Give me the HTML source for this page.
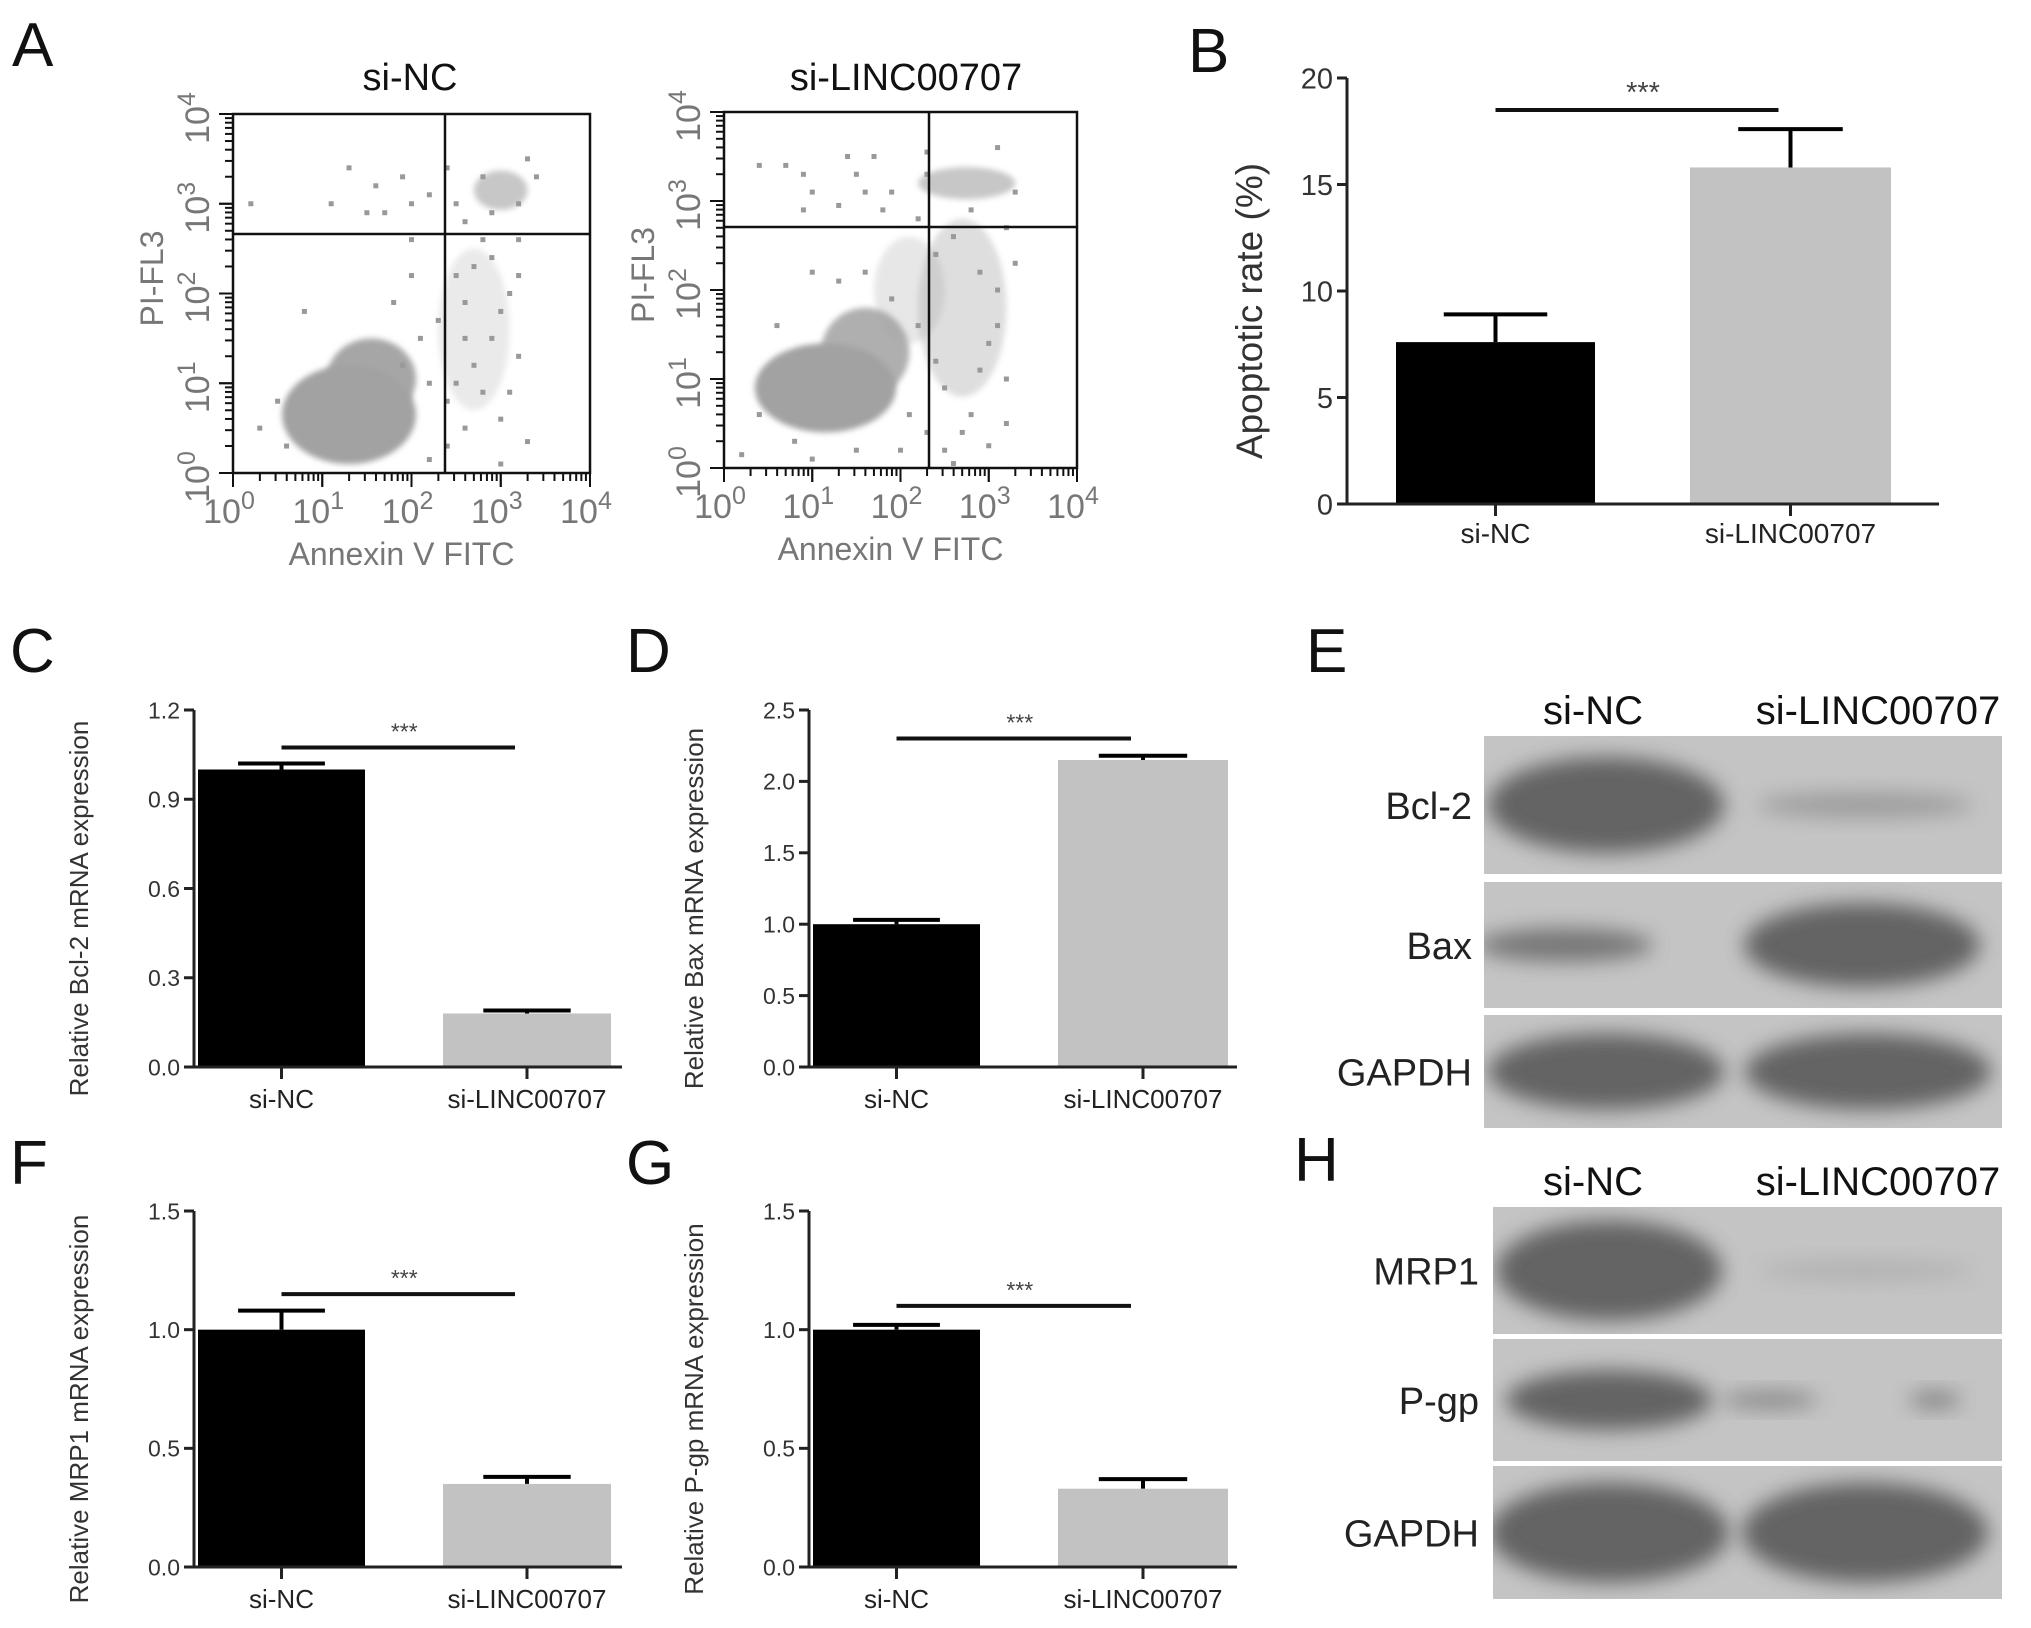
<!DOCTYPE html>
<html><head><meta charset="utf-8"><style>
html,body{margin:0;padding:0;background:#fff}
svg{display:block;font-family:"Liberation Sans",Arial,sans-serif}
</style></head><body>
<svg id="fig" width="2031" height="1628" viewBox="0 0 2031 1628">
<defs>
<filter id="blur" x="-30%" y="-60%" width="160%" height="220%"><feGaussianBlur stdDeviation="10"/></filter>
<filter id="blur2" x="-30%" y="-60%" width="160%" height="220%"><feGaussianBlur stdDeviation="3"/></filter>
</defs>
</svg>
<script>
// ---------- Data ----------
const cats = ['si-NC','si-LINC00707'];
const bVals = [7.6, 15.8];
const bErr = [1.3, 1.8];
const bTicks = [0,5,10,15,20];
const cVals = [1.0, 0.18];
const cErr = [0.02, 0.01];
const cTicks = [0,0.3,0.6,0.9,1.2];
const dVals = [1.0, 2.15];
const dErr = [0.03, 0.03];
const dTicks = [0,0.5,1.0,1.5,2.0,2.5];
const fVals = [1.0, 0.35];
const fErr = [0.08, 0.03];
const fTicks = [0,0.5,1.0,1.5];
const gVals = [1.0, 0.33];
const gErr = [0.02, 0.04];
const gTicks = [0,0.5,1.0,1.5];
// scatter clusters: [log10 x, log10 y, spread x, spread y, opacity]
const ncClusters = [[1.3,0.65,0.75,0.55,1],[1.55,1.05,0.5,0.45,0.95],[3.0,3.15,0.3,0.22,0.6],[2.7,1.6,0.4,0.9,0.22]];
const liClusters = [[1.15,0.9,0.8,0.5,1],[1.6,1.3,0.5,0.5,0.85],[2.75,3.2,0.55,0.18,0.6],[2.7,1.8,0.5,1.0,0.35],[2.1,2.0,0.4,0.6,0.25]];
const ncDots = [[0.2,3.0],[1.3,3.4],[1.6,3.2],[1.9,3.3],[2.0,3.0],[1.7,2.9],[2.2,3.1],[2.4,3.4],[2.6,2.8],[3.3,3.5],[3.4,3.3],[2.5,2.2],[2.9,2.4],[3.1,2.0],[2.6,1.5],[3.2,1.3],[2.8,0.9],[3.0,0.6],[2.4,0.3],[3.3,0.35],[2.0,2.2],[1.8,1.9],[0.8,1.8],[0.5,0.8],[2.2,0.15],[3.0,0.1],[2.9,2.9],[3.2,2.6],[2.5,1.0],[2.6,1.9],[2.8,2.6],[3.0,1.8],[2.7,1.2],[2.4,0.8],[3.1,0.9],[2.9,1.5],[2.6,0.5],[2.7,2.3],[3.2,2.2],[2.3,1.7],[2.1,1.5],[1.9,1.2],[2.2,1.0],[0.3,0.5],[0.6,0.3],[2.0,2.6],[1.5,2.9],[1.1,3.0],[2.8,3.3],[3.2,3.0],[2.5,3.0]];
const liDots = [[0.4,3.4],[0.7,3.4],[0.9,3.3],[1.4,3.5],[1.7,3.5],[1.0,3.1],[0.9,2.9],[1.3,2.95],[1.6,3.1],[2.3,3.55],[3.1,3.6],[3.3,3.1],[3.2,2.7],[2.9,2.2],[3.1,1.6],[3.2,1.0],[2.8,0.6],[2.3,0.4],[3.0,0.25],[1.0,2.2],[1.3,2.1],[0.6,1.6],[0.2,0.15],[2.0,0.2],[2.6,0.05],[3.3,2.3],[2.4,1.2],[2.5,0.9],[2.9,1.1],[3.1,2.0],[2.6,2.6],[2.2,2.8],[1.8,2.9],[1.9,3.1],[2.4,2.4],[2.8,2.9],[3.0,1.4],[2.7,0.4],[2.5,0.2],[1.5,0.2],[1.0,0.1],[2.2,1.6],[1.9,1.9],[1.6,2.2],[0.4,0.6],[0.8,0.3],[2.1,0.6],[3.2,0.5],[2.3,3.3],[1.5,3.3]];
const blotE = [ // row label, y0, y1, bands [cx, rx, ry, darkness]
 ['Bcl-2',736,874,[[1606,118,48,1],[1865,108,13,0.4]]],
 ['Bax',882,1008,[[1565,88,17,0.8],[1862,118,42,1]]],
 ['GAPDH',1015,1128,[[1606,118,38,1],[1868,123,38,1]]]];
const blotH = [
 ['MRP1',1207,1334,[[1609,113,50,1],[1865,108,11,0.18]]],
 ['P-gp',1339,1461,[[1609,103,30,1],[1770,48,9,0.6],[1935,26,9,0.65]]],
 ['GAPDH',1466,1599,[[1609,120,50,1],[1865,123,50,1]]]];

// ---------- helpers ----------
const NS='http://www.w3.org/2000/svg';
const svg=document.getElementById('fig');
function mk(tag,attrs,parent,txt){const e=document.createElementNS(NS,tag);for(const k in attrs)e.setAttribute(k,attrs[k]);if(txt!==undefined)e.textContent=txt;(parent||svg).appendChild(e);return e;}

function letter(t,x,y){const e=mk('text',{x:x,y:y,'font-size':62,fill:'#111'},svg,t);

}

function barChart(id,ax,ay0,ay1,axEnd,ticks,vals,errs,bars,sig,title,tickFs,titleFs,catFs,catY,titleX){
 const g=mk('g',{});
 
 
 const ymax=ticks[ticks.length-1];
 const Y=v=>ay0-(v/ymax)*(ay0-ay1);
 for(let i=0;i<vals.length;i++){
  const [x0,x1]=bars[i];const cx=(x0+x1)/2;
  const r=mk('rect',{x:x0,y:Y(vals[i]),width:x1-x0,height:ay0-Y(vals[i]),fill:i==0?'#000':'#c2c2c2'},g);
  
  
  const ew=(x1-x0)*0.26;
  const eb=mk('path',{d:`M${cx},${Y(vals[i])} V${Y(vals[i]+errs[i])} M${cx-ew},${Y(vals[i]+errs[i])} H${cx+ew}`,stroke:'#000','stroke-width':4,fill:'none'},g);
  
  
  mk('line',{x1:cx,x2:cx,y1:ay0,y2:ay0+12,stroke:'#222','stroke-width':3},g);
  const ct=mk('text',{x:cx,y:catY,'font-size':catFs,'text-anchor':'middle',fill:'#222'},g,cats[i]);
  
  
 }
 mk('line',{x1:ax,x2:ax,y1:ay1,y2:ay0,stroke:'#222','stroke-width':3},g);
 mk('line',{x1:ax,x2:axEnd,y1:ay0,y2:ay0,stroke:'#222','stroke-width':3},g);
 ticks.forEach(t=>{
  mk('line',{x1:ax-10,x2:ax,y1:Y(t),y2:Y(t),stroke:'#222','stroke-width':3},g);
  const lb=(ymax<5)?t.toFixed(1):String(t);
  const tl=mk('text',{x:ax-14,y:Y(t)+tickFs*0.36,'font-size':tickFs,'text-anchor':'end',fill:'#333'},g,lb);
  
  
 });
 const c0=(bars[0][0]+bars[0][1])/2,c1=(bars[1][0]+bars[1][1])/2;
 const sy=Y(sig);
 const sl=mk('line',{x1:c0,x2:c1-12,y1:sy,y2:sy,stroke:'#111','stroke-width':4},g);
 
 
 const st=mk('text',{x:(c0+c1)/2,y:sy-8,'font-size':tickFs,'text-anchor':'middle',fill:'#444'},g,'***');
 
 
 const ty=(ay0+ay1)/2+20;
 const tt=mk('text',{x:titleX,y:ty,'font-size':titleFs,'text-anchor':'middle',fill:'#333',transform:`rotate(-90 ${titleX} ${ty})`},g,title);
 
 
}

function flow(id,title,L,T,R,B,vx,hy,clusters,dots,titleX){
 const g=mk('g',{});
 
 
 const X=l=>L+l/4*(R-L), Y=l=>B-l/4*(B-T);
 const cp=mk('clipPath',{id:'cp'+id},g); mk('rect',{x:L,y:T,width:R-L,height:B-T},cp);
 const dg=mk('g',{'clip-path':`url(#cp${id})`},g);
 clusters.forEach(c=>{
  const e=mk('ellipse',{cx:X(c[0]),cy:Y(c[1]),rx:c[2]/4*(R-L),ry:c[3]/4*(B-T),fill:'#a2a2a2',opacity:c[4],filter:'url(#blur2)'},dg);
  
  
 });
 dots.forEach(d=>{
  const r=mk('rect',{x:X(d[0])-2.5,y:Y(d[1])-2.5,width:5,height:5,fill:'#999'},dg);
  
  
 });
 mk('rect',{x:L,y:T,width:R-L,height:B-T,fill:'none',stroke:'#111','stroke-width':2.5},g);
 const q1=mk('line',{x1:vx,x2:vx,y1:T,y2:B,stroke:'#111','stroke-width':2.5},g);
 
 
 const q2=mk('line',{x1:L,x2:R,y1:hy,y2:hy,stroke:'#111','stroke-width':2.5},g);
 
 
 for(let k=0;k<4;k++)for(let m=1;m<=10;m++){
  const l=k+Math.log10(m);const big=(m==1||m==10);
  mk('line',{x1:X(l),x2:X(l),y1:B,y2:B+(big?14:8),stroke:'#111','stroke-width':2},g);
  mk('line',{x1:L,x2:L-(big?14:8),y1:Y(l),y2:Y(l),stroke:'#111','stroke-width':2},g);
 }
 for(let k=0;k<=4;k++){
  const t=mk('text',{x:X(k)-4,y:B+50,'font-size':34,'text-anchor':'middle',fill:'#777'},g);
  
  
  mk('tspan',{},t,'10');mk('tspan',{dy:-14,'font-size':25},t,String(k));
  const yy=Y(k)+4, xx=L-24;
  const t2=mk('text',{x:xx,y:yy,'font-size':34,'text-anchor':'middle',fill:'#777',transform:`rotate(-90 ${xx} ${yy})`},g);
  
  
  mk('tspan',{},t2,'10');mk('tspan',{dy:-14,'font-size':25},t2,String(k));
 }
 const xt=mk('text',{x:(L+R)/2-10,y:B+92,'font-size':32,'text-anchor':'middle',fill:'#777'},g,'Annexin V FITC');
 
 
 const yx=L-70,yy=(T+B)/2-15;
 const yt=mk('text',{x:yx,y:yy,'font-size':32,'text-anchor':'middle',fill:'#777',transform:`rotate(-90 ${yx} ${yy})`},g,'PI-FL3');
 
 
 const tt=mk('text',{x:titleX,y:90,'font-size':38,'text-anchor':'middle',fill:'#111'},g,title);
 
 
}

function blot(id,x0,x1,rows,labY,labX){
 const g=mk('g',{});
 
 
 const l1=mk('text',{x:1593,y:labY,'font-size':40,'text-anchor':'middle',fill:'#111'},g,'si-NC');
 
 
 const l2=mk('text',{x:1878,y:labY,'font-size':40,'text-anchor':'middle',fill:'#111'},g,'si-LINC00707');
 
 
 rows.forEach((r,i)=>{
  const [name,y0,y1,bands]=r;
  const cp=mk('clipPath',{id:'bc'+id+i},g);mk('rect',{x:x0,y:y0,width:x1-x0,height:y1-y0},cp);
  const bg=mk('rect',{x:x0,y:y0,width:x1-x0,height:y1-y0,fill:'#c4c4c4'},g);
  
  
  const bgG=mk('g',{'clip-path':`url(#bc${id}${i})`},g);
  const cy=(y0+y1)/2;
  bands.forEach(b=>{
   const e=mk('ellipse',{cx:b[0],cy:cy,rx:b[1],ry:b[2],fill:'#5c5c5c',opacity:b[3]*0.92,filter:'url(#blur)'},bgG);
   
   
  });
  const t=mk('text',{x:labX,y:cy+14,'font-size':38,'text-anchor':'end',fill:'#222'},g,name);
  
  
 });
}

// ---------- draw ----------
letter('A',12,66);letter('B',1188,72);letter('C',10,672);letter('D',626,672);letter('E',1306,672);
letter('F',10,1184);letter('G',626,1184);letter('H',1294,1181);

flow('nc','si-NC',233,114,590,473,445,234,ncClusters,ncDots,410);
flow('li','si-LINC00707',724,112,1077,468,929,227,liClusters,liDots,906);

barChart('b',1347,504,78,1939,bTicks,bVals,bErr,[[1396,1595],[1690,1891]],18.5,'Apoptotic rate (%)',29,37,28,543,1262);
barChart('c',194,1067,710,622,cTicks,cVals,cErr,[[198,365],[443,611]],1.074,'Relative Bcl-2 mRNA expression',23,26,26,1108,88);
barChart('d',809,1067,710,1237,dTicks,dVals,dErr,[[813,980],[1058,1228]],2.30,'Relative Bax mRNA expression',23,26,26,1108,703);
barChart('f',194,1567,1211,622,fTicks,fVals,fErr,[[198,365],[443,611]],1.15,'Relative MRP1 mRNA expression',23,26,26,1608,88);
barChart('g',809,1567,1211,1237,gTicks,gVals,gErr,[[813,980],[1058,1228]],1.10,'Relative P-gp mRNA expression',23,26,26,1608,703);

blot('e',1484,2002,blotE,724,1472);
blot('h',1493,2002,blotH,1195,1479);
</script>
</body></html>
